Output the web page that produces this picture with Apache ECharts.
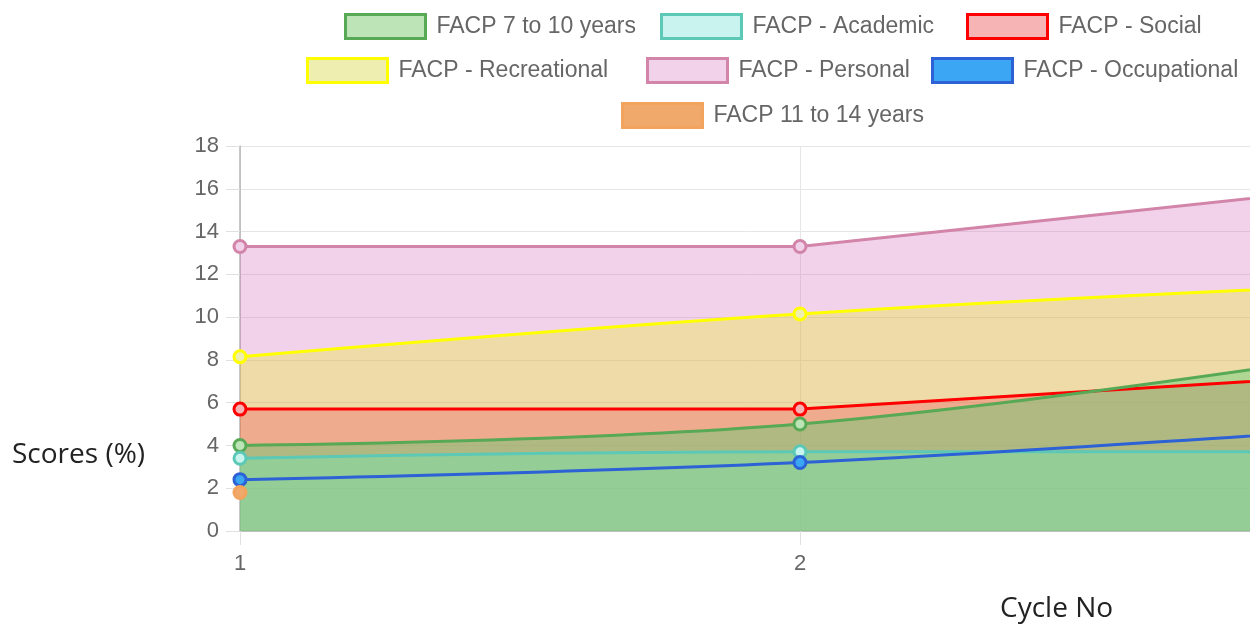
<!DOCTYPE html>
<html>
<head>
<meta charset="utf-8">
<title>FACP scores</title>
<script src="https://cdn.jsdelivr.net/npm/echarts@6/dist/echarts.min.js"></script>
<style>
  html, body { margin: 0; padding: 0; background: #fff; }
  #chart-container { width: 1250px; height: 634px; }
</style>
</head>
<body>
<div id="chart-container"></div>
<script>
// data (cycle 3 sits just off the right edge)
var cycles = ["1", "2", "3"];
var yTicks = { min: 0, max: 18, step: 2 };

var age7to10 = [4.0, 5.0, 8.3];
var academic = [3.4, 3.7, 3.7];
var social = [5.7, 5.7, 7.3];
var recreational = [8.15, 10.15, 11.5];
var personal = [13.3, 13.3, 16.1];
var occupational = [2.4, 3.2, 4.8];
var age11to14 = [1.8];

var legendOrder = [
  "FACP 7 to 10 years", "FACP - Academic", "FACP - Social",
  "FACP - Recreational", "FACP - Personal", "FACP - Occupational",
  "FACP 11 to 14 years"
];

var seriesData = {
  "FACP 7 to 10 years": age7to10,
  "FACP - Academic": academic,
  "FACP - Social": social,
  "FACP - Recreational": recreational,
  "FACP - Personal": personal,
  "FACP - Occupational": occupational,
  "FACP 11 to 14 years": age11to14
};

// colours: line, legend/point fill, area fill (null = no fill), curve tension
var styles = {
  "FACP 7 to 10 years": { line: "#58a955", box: "#bde4b7", area: "rgba(86,208,118,0.4)", smooth: 0.4 },
  "FACP - Academic": { line: "#5cc8b6", box: "#c9f3ee", area: "rgba(84,252,191,0.3)", smooth: 0.4 },
  "FACP - Social": { line: "#ff0000", box: "#f6b4b4", area: "rgba(238,58,75,0.3)", smooth: false },
  "FACP - Recreational": { line: "#ffff00", box: "#eeeeb0", area: "rgba(229,237,14,0.3)", smooth: 0.4 },
  "FACP - Personal": { line: "#d285a9", box: "#f2d2ea", area: "rgba(212,105,185,0.3)", smooth: false },
  "FACP - Occupational": { line: "#2c62d6", box: "#3aa6f4", area: null, smooth: 0.4 },
  "FACP 11 to 14 years": { line: "#f2a35e", box: "#f0a96a", area: null, smooth: 0.4 }
};

// area fills back to front, then all lines on top
var areaOrder = ["FACP - Personal", "FACP - Recreational", "FACP - Social", "FACP 7 to 10 years", "FACP - Academic"];
var lineOrder = ["FACP - Personal", "FACP - Recreational", "FACP - Social", "FACP 7 to 10 years",
  "FACP - Academic", "FACP - Occupational", "FACP 11 to 14 years"];

// legend box positions (3 centred rows)
var legendPos = {
  "FACP 7 to 10 years": [344, 13],
  "FACP - Academic": [660, 13],
  "FACP - Social": [966, 13],
  "FACP - Recreational": [306, 57],
  "FACP - Personal": [646, 57],
  "FACP - Occupational": [931, 57],
  "FACP 11 to 14 years": [621, 102]
};

var series = [];
areaOrder.forEach(function (name) {
  series.push({
    name: name,
    type: "line",
    data: seriesData[name],
    smooth: styles[name].smooth,
    silent: true,
    showSymbol: false,
    symbol: "none",
    lineStyle: { width: 0, opacity: 0 },
    areaStyle: { color: styles[name].area, opacity: 1, origin: "start" },
    z: 1
  });
});
lineOrder.forEach(function (name) {
  series.push({
    name: name,
    type: "line",
    data: seriesData[name],
    smooth: styles[name].smooth,
    symbol: "circle",
    symbolSize: 12,
    showSymbol: true,
    itemStyle: { color: styles[name].box, borderColor: styles[name].line, borderWidth: 3 },
    lineStyle: { color: styles[name].line, width: 3 },
    z: 3
  });
});

var legends = legendOrder.map(function (name) {
  return {
    data: [{
      name: name,
      itemStyle: { color: styles[name].box, borderColor: styles[name].line, borderWidth: 3 }
    }],
    left: legendPos[name][0],
    top: legendPos[name][1],
    padding: 0,
    icon: "rect",
    itemWidth: 80,
    itemHeight: 24,
    textStyle: {
      color: "#666",
      fontSize: 23,
      fontFamily: "Liberation Sans, Arial, sans-serif",
      padding: [0, 0, 0, 6]
    }
  };
});

var dom = document.getElementById("chart-container");
var myChart = echarts.init(dom, null, { renderer: "canvas" });

var option = {
  animation: false,
  legend: legends,
  grid: {
    left: 240,
    right: -110,
    top: 146,
    bottom: 103,
    containLabel: false,
    outerBoundsMode: "none"
  },
  xAxis: {
    type: "category",
    data: cycles,
    boundaryGap: false,
    axisLine: { lineStyle: { color: "#b5b5b5", width: 1.5 } },
    axisTick: { show: true, length: 14, lineStyle: { color: "#e0e0e0" } },
    axisLabel: {
      color: "#666",
      fontSize: 22,
      fontFamily: "Liberation Sans, Arial, sans-serif",
      margin: 22
    },
    splitLine: { show: true, lineStyle: { color: "#e6e6e6" } }
  },
  yAxis: {
    type: "value",
    min: yTicks.min,
    max: yTicks.max,
    interval: yTicks.step,
    axisLine: { show: true, lineStyle: { color: "#b5b5b5", width: 1.5 } },
    axisTick: { show: true, length: 14, lineStyle: { color: "#e0e0e0" } },
    axisLabel: {
      color: "#666",
      fontSize: 22,
      fontFamily: "Liberation Sans, Arial, sans-serif",
      margin: 21
    },
    splitLine: { show: true, lineStyle: { color: "#e6e6e6" } }
  },
  graphic: [
    {
      type: "text",
      left: 12,
      top: 441,
      style: { text: "Scores (%)", font: "28px 'Open Sans', sans-serif", fill: "#222" }
    },
    {
      type: "text",
      left: 1000,
      top: 595,
      style: { text: "Cycle No", font: "28px 'Open Sans', sans-serif", fill: "#222" }
    }
  ],
  series: series
};

myChart.setOption(option);
window.addEventListener("resize", myChart.resize);
</script>
</body>
</html>
